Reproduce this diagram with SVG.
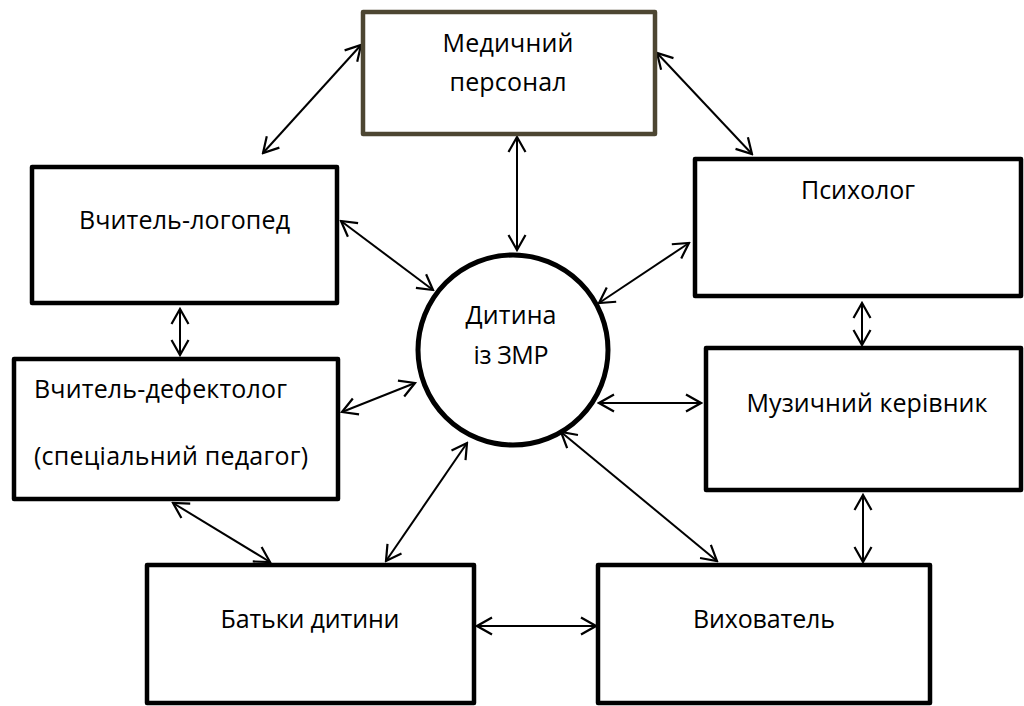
<svg xmlns="http://www.w3.org/2000/svg" width="1024" height="706" viewBox="0 0 1024 706">
<style>
.box{fill:#fff;stroke:#000;stroke-width:4.5;stroke-linejoin:round}
.med{stroke:#4d4632}
.t{font-family:"Open Sans","Noto Sans","Liberation Sans",sans-serif;font-size:25px;fill:#000}
.c{text-anchor:middle}
.ln{fill:none;stroke:#000;stroke-width:2;marker-start:url(#ah);marker-end:url(#ah)}
</style>
<defs>
<marker id="ah" viewBox="-18 -11 20 22" markerWidth="20" markerHeight="22" refX="0" refY="0" orient="auto-start-reverse" markerUnits="userSpaceOnUse">
<path d="M-15,-8.5 L0,0 L-15,8.5" fill="none" stroke="#000" stroke-width="2.2"/>
</marker>
</defs>
<rect width="1024" height="706" fill="#fff"/>
<g id="connectors">
<line class="ln" x1="361" y1="45" x2="263" y2="153"/>
<line class="ln" x1="657" y1="53" x2="752" y2="154"/>
<line class="ln" x1="517" y1="137" x2="517" y2="250"/>
<line class="ln" x1="341" y1="221" x2="433" y2="290"/>
<line class="ln" x1="689" y1="243" x2="599" y2="303"/>
<line class="ln" x1="180" y1="309" x2="180" y2="355"/>
<line class="ln" x1="342" y1="412" x2="415" y2="383"/>
<line class="ln" x1="862" y1="303" x2="862" y2="345"/>
<line class="ln" x1="599" y1="403" x2="701" y2="403"/>
<line class="ln" x1="467" y1="443" x2="386" y2="561"/>
<line class="ln" x1="561" y1="432" x2="717" y2="561"/>
<line class="ln" x1="173" y1="503" x2="270" y2="562"/>
<line class="ln" x1="863" y1="495" x2="863" y2="562"/>
<line class="ln" x1="477" y1="626" x2="596" y2="626"/>
</g>
<g id="medical">
<rect class="box med" x="363" y="12" width="292" height="122"/>
<text class="t c" x="508" y="52" textLength="131">Медичний</text>
<text class="t c" x="508" y="91" textLength="117">персонал</text>
</g>
<g id="logoped">
<rect class="box" x="32" y="167" width="305" height="136"/>
<text class="t c" x="184.5" y="229" textLength="211">Вчитель-логопед</text>
</g>
<g id="defectolog">
<rect class="box" x="14" y="359" width="324" height="140"/>
<text class="t" x="34" y="398" textLength="253">Вчитель-дефектолог</text>
<text class="t" x="34" y="465" textLength="274">(спеціальний педагог)</text>
</g>
<g id="child">
<circle cx="513" cy="350" r="95" fill="#fff" stroke="#000" stroke-width="5"/>
<text class="t c" x="511" y="324" textLength="91">Дитина</text>
<text class="t c" x="511" y="364" textLength="75">із ЗМР</text>
</g>
<g id="psychologist">
<rect class="box" x="695" y="159" width="326" height="137"/>
<text class="t c" x="858" y="199" textLength="114">Психолог</text>
</g>
<g id="music">
<rect class="box" x="706" y="348" width="315" height="142"/>
<text class="t c" x="867" y="412" textLength="241">Музичний керівник</text>
</g>
<g id="parents">
<rect class="box" x="147" y="565" width="327" height="138"/>
<text class="t c" x="310" y="628" textLength="179">Батьки дитини</text>
</g>
<g id="educator">
<rect class="box" x="598" y="565" width="332" height="138"/>
<text class="t c" x="764" y="628" textLength="142">Вихователь</text>
</g>
</svg>
